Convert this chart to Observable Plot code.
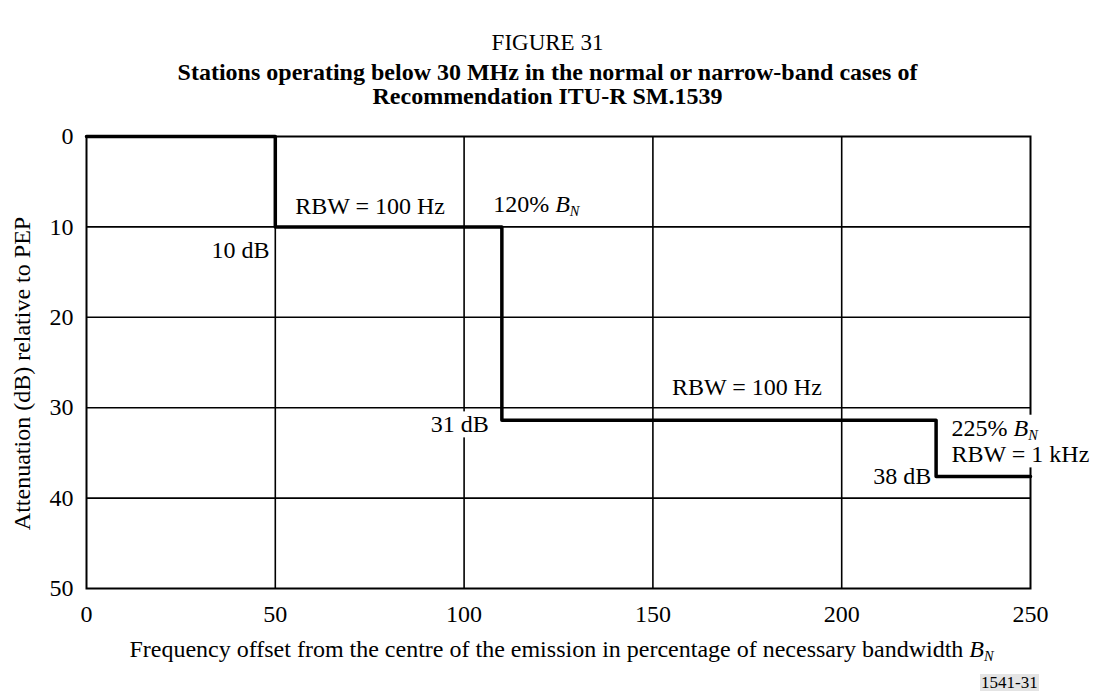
<!DOCTYPE html>
<html>
<head>
<meta charset="utf-8">
<script src="https://cdn.jsdelivr.net/npm/d3@7"></script>
<script src="https://cdn.jsdelivr.net/npm/@observablehq/plot@0.6"></script>
<style>
  body { margin: 0; background: #fff; font-family: "Liberation Serif", "Times New Roman", serif; }
  #page { position: relative; width: 1095px; height: 693px; overflow: hidden; background: #fff; }
  .t { position: absolute; left: 0; width: 1095px; text-align: center; line-height: 24px; color: #000; white-space: nowrap; z-index: 2; }
  #fig { top: 31px; font-size: 23px; }
  #l1 { top: 60px; font-size: 24px; font-weight: bold; }
  #l2 { top: 84px; font-size: 24px; font-weight: bold; }
  #chart { position: absolute; left: 0; top: 110px; z-index: 1; }
  #code { position: absolute; left: 980px; top: 674px; background: #e4e4e4; font-size: 17px; line-height: 17px; padding: 0 1px; color: #000; z-index: 2; }
</style>
</head>
<body>
<div id="page">
  <div class="t" id="fig">FIGURE 31</div>
  <div class="t" id="l1">Stations operating below 30 MHz in the normal or narrow-band cases of</div>
  <div class="t" id="l2">Recommendation ITU-R SM.1539</div>
  <div id="chart"></div>
  <div id="code">1541-31</div>
</div>
<script>
// ---- data ----
const xTicks = [0, 50, 100, 150, 200, 250];
const yTicks = [0, 10, 20, 30, 40, 50];
const offsetPct = [0, 50, 110, 225, 250];          // frequency offset (% of B_N)
const attenDb   = [0, 10, 31.4, 37.6, 37.6];       // attenuation (dB)
const noteText = ["RBW = 100 Hz", "120% B_N", "10 dB", "31 dB", "RBW = 100 Hz", "225% B_N", "RBW = 1 kHz", "38 dB"];
const noteX    = [75.1, 107.7, 48.5, 106.5, 174.9, 229.1, 229.1, 223.7];
const noteY    = [8.55, 8.35, 13.45, 32.73, 28.6, 33.1, 36.05, 38.43];
const xLabel = "Frequency offset from the centre of the emission in percentage of necessary bandwidth B_N";
const yLabel = "Attenuation (dB) relative to PEP";

// ---- build ----
const step = offsetPct.map((x, i) => ({x, y: attenDb[i]}));
const notes = noteText.map((text, i) => ({text, x: noteX[i], y: noteY[i], i}));
const anchorOf = {0: "middle", 1: "start", 2: "end", 3: "end", 4: "middle", 5: "start", 6: "start", 7: "end"};
const font = '"Liberation Serif", "Times New Roman", serif';
const noteMark = (anchor) => Plot.text(notes.filter(d => anchorOf[d.i] === anchor), {
  x: "x", y: "y", text: "text", textAnchor: anchor, lineAnchor: "bottom",
  fontSize: 24, fontWeight: "normal", fill: "#000"
});

const svg = Plot.plot({
  width: 1095, height: 583,
  marginTop: 26, marginBottom: 105, marginLeft: 86, marginRight: 65,
  style: {fontFamily: font, fontSize: "24px", color: "#000", background: "transparent", overflow: "visible"},
  x: {domain: [0, 250]},
  y: {domain: [0, 50], reverse: true},
  marks: [
    Plot.gridX(xTicks.slice(1, -1), {stroke: "#000", strokeOpacity: 1, strokeWidth: 1.6}),
    Plot.gridY(yTicks.slice(1, -1), {stroke: "#000", strokeOpacity: 1, strokeWidth: 1.6}),
    Plot.frame({stroke: "#000", strokeWidth: 2}),
    Plot.axisX(xTicks, {tickSize: 0, tickPadding: 16, fontSize: 24, fontWeight: "normal", label: null}),
    Plot.axisY(yTicks, {tickSize: 0, tickPadding: 13, fontSize: 24, fontWeight: "normal", label: null}),
    noteMark("middle"), noteMark("start"), noteMark("end"),
    Plot.line(step, {x: "x", y: "y", curve: "step-after", stroke: "#000", strokeWidth: 3.5}),
    Plot.text([xLabel], {frameAnchor: "bottom", dy: 68, dx: 3, lineAnchor: "bottom", textAnchor: "middle", fontSize: 24, fill: "#000"}),
    Plot.text([yLabel], {frameAnchor: "left", rotate: -90, dx: -64, dy: 11, lineAnchor: "middle", textAnchor: "middle", fontSize: 24, fill: "#000"})
  ]
});
document.getElementById("chart").appendChild(svg);

// white boxes behind annotation texts, and B_N subscripts
const ns = "http://www.w3.org/2000/svg";
const noteSet = new Set(noteText);
svg.querySelectorAll("text").forEach(t => {
  const content = t.textContent;
  if (t.children.length === 0 && content.includes("B_N")) {
    const [pre, post] = content.split("B_N");
    t.textContent = pre;
    const b = document.createElementNS(ns, "tspan");
    b.setAttribute("font-style", "italic"); b.textContent = "B"; t.appendChild(b);
    const n = document.createElementNS(ns, "tspan");
    n.setAttribute("font-style", "italic"); n.setAttribute("font-size", "0.6em"); n.setAttribute("dy", "0.3em");
    n.textContent = "N"; t.appendChild(n);
    if (post) t.appendChild(document.createTextNode(post));
  }
  if (noteSet.has(content)) {
    const bb = t.getBBox();
    const r = document.createElementNS(ns, "rect");
    r.setAttribute("x", bb.x - 1); r.setAttribute("y", bb.y);
    r.setAttribute("width", bb.width + 2); r.setAttribute("height", bb.height);
    r.setAttribute("fill", "#fff");
    if (t.getAttribute("transform")) r.setAttribute("transform", t.getAttribute("transform"));
    t.parentNode.insertBefore(r, t);
  }
});
</script>
</body>
</html>
